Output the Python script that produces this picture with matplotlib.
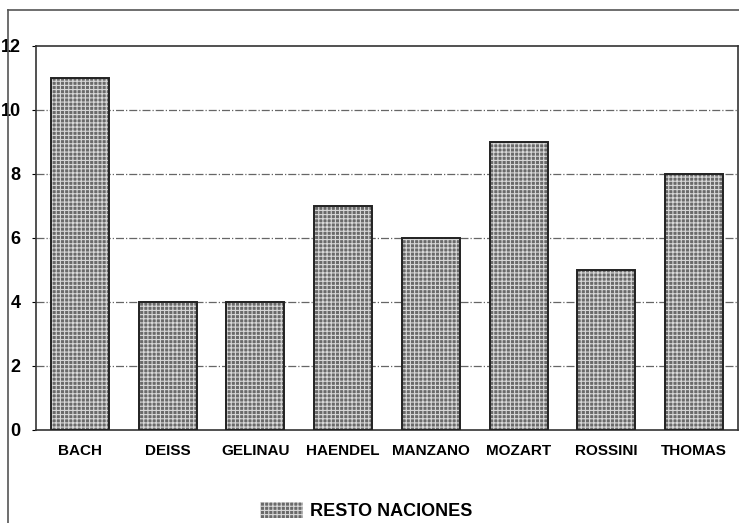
import matplotlib
matplotlib.use("Agg")
import matplotlib.pyplot as plt
from matplotlib.lines import Line2D
from matplotlib.patches import Patch

composers = ["BACH", "DEISS", "GELINAU", "HAENDEL", "MANZANO", "MOZART", "ROSSINI", "THOMAS"]
resto_naciones = [11, 4, 4, 7, 6, 9, 5, 8]
yticks = [0, 2, 4, 6, 8, 10, 12]
series_label = "RESTO NACIONES"

plt.rcParams["font.family"] = ["Liberation Sans", "DejaVu Sans"]
plt.rcParams["hatch.linewidth"] = 0.8

W, H = 739, 523
fig = plt.figure(figsize=(W / 100, H / 100), dpi=100)
ax = fig.add_axes([36 / W, 93 / H, 702 / W, 384 / H])

bar_face = "#6a6a6a"
bar_hatch = "#d8d8d8"
x = range(len(composers))
ax.bar(x, resto_naciones, width=0.66, color=bar_face, edgecolor=bar_hatch,
       hatch="++++", linewidth=0, zorder=2)
ax.bar(x, resto_naciones, width=0.66, fill=False, edgecolor="#222222",
       linewidth=1.4, zorder=3)

ax.set_xlim(-0.5, len(composers) - 0.5)
ax.set_ylim(0, 12)
ax.set_yticks(yticks)
ax.set_yticklabels([str(t) for t in yticks], fontsize=13, fontweight="bold")
ax.set_xticks(list(x))
ax.set_xticklabels(composers, fontsize=11, fontweight="bold")
ax.tick_params(axis="x", length=0, pad=10)
ax.tick_params(axis="y", length=3, pad=8, direction="out")
for t in yticks[1:-1]:
    ax.axhline(t, color="#666666", lw=0.9, ls="-.", zorder=1)
for s in ax.spines.values():
    s.set_color("#333333")
    s.set_linewidth(1.2)

# outer frame of the scanned page
fig.add_artist(Line2D([8 / W, 8 / W], [0, 1 - 10 / H], transform=fig.transFigure,
                      color="#555555", lw=1.2))
fig.add_artist(Line2D([8 / W, 1], [1 - 10 / H, 1 - 10 / H], transform=fig.transFigure,
                      color="#555555", lw=1.2))

handle = Patch(facecolor=bar_face, edgecolor=bar_hatch, hatch="++++", lw=0)
fig.legend([handle], [series_label], loc="center", bbox_to_anchor=(366 / W, 1 - 511 / H),
           frameon=False, prop={"weight": "bold", "size": 13},
           handlelength=2.4, handleheight=1.0, handletextpad=0.4)

fig.savefig("out.png", dpi=100)
